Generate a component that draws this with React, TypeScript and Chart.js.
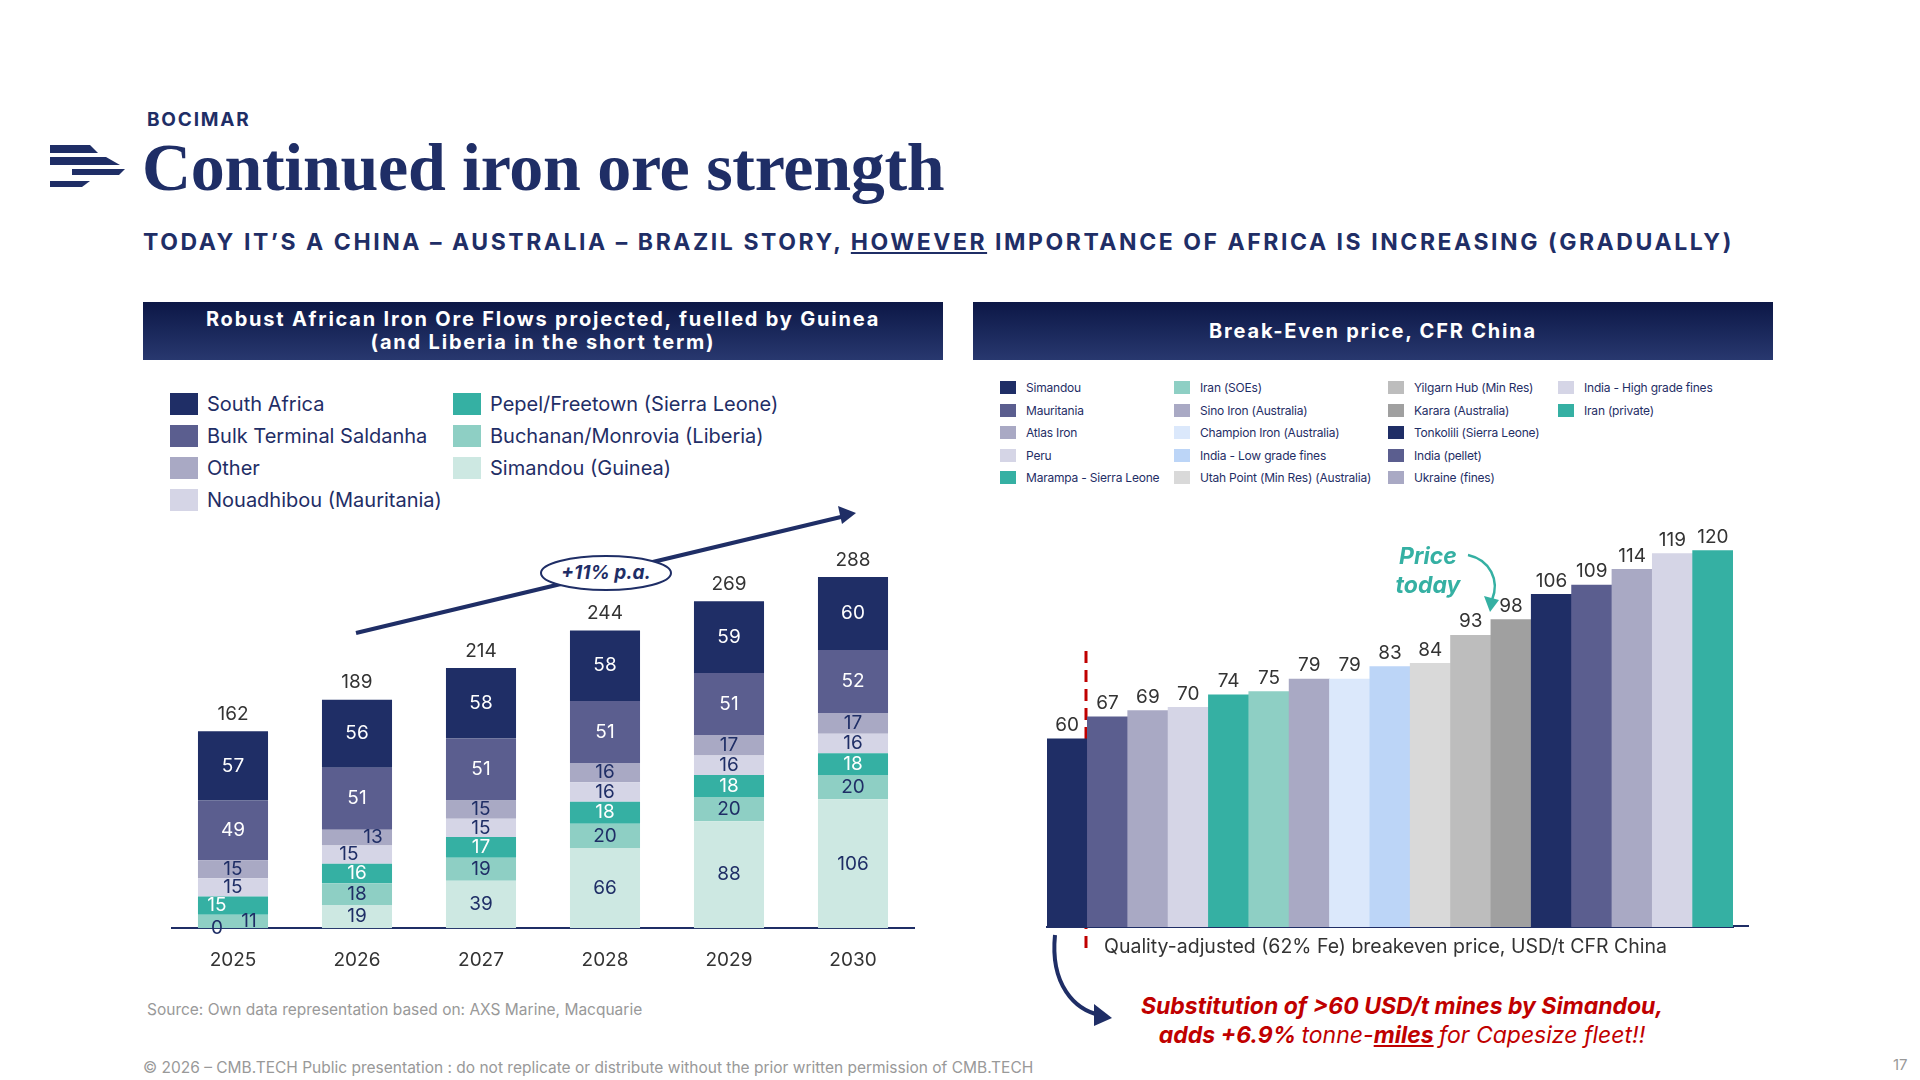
import React, { useEffect, useRef } from "react";
import { Chart, registerables } from "chart.js";
Chart.register(...registerables);

const years = ["2025", "2026", "2027", "2028", "2029", "2030"];
const simandou = [0, 19, 39, 66, 88, 106];
const buchanan = [11, 18, 19, 20, 20, 20];
const pepel = [15, 16, 17, 18, 18, 18];
const nouadhibou = [15, 15, 15, 16, 16, 16];
const other = [15, 13, 15, 16, 17, 17];
const saldanha = [49, 51, 51, 51, 51, 52];
const southAfrica = [57, 56, 58, 58, 59, 60];
const totals = [162, 189, 214, 244, 269, 288];

const beLabels = ["Tonkolili (Sierra Leone)", "Mauritania", "Atlas Iron", "Peru", "Marampa - Sierra Leone", "Iran (SOEs)", "Sino Iron (Australia)", "Champion Iron (Australia)", "India - Low grade fines", "Utah Point (Min Res) (Australia)", "Yilgarn Hub (Min Res)", "Karara (Australia)", "Simandou", "India (pellet)", "Ukraine (fines)", "India - High grade fines", "Iran (private)"];
const beValues = [60, 67, 69, 70, 74, 75, 79, 79, 83, 84, 93, 98, 106, 109, 114, 119, 120];

const NAVY = "#1f2e66";
const C = { sa: "#1f2e66", sal: "#5b5e8f", oth: "#a9a9c4", nou: "#d5d5e6", pep: "#35b0a3", buc: "#8ecfc4", sim: "#cde8e2" };
const beColors = ["#1f2e66", "#5b5e8f", "#a9a9c4", "#d5d5e6", "#35b0a3", "#8ecfc4", "#a9a9c4", "#dbe8fb", "#bcd5f7", "#d9d9d9", "#bdbdbd", "#a0a0a0", "#1f2e66", "#5b5e8f", "#a9a9c4", "#d5d5e6", "#35b0a3"];

const leftLegend = [
  ["South Africa", C.sa], ["Bulk Terminal Saldanha", C.sal], ["Other", C.oth], ["Nouadhibou (Mauritania)", C.nou],
  ["Pepel/Freetown (Sierra Leone)", C.pep], ["Buchanan/Monrovia (Liberia)", C.buc], ["Simandou (Guinea)", C.sim],
];
const rightLegend = [
  ["Simandou", "#1f2e66"], ["Mauritania", "#5b5e8f"], ["Atlas Iron", "#a9a9c4"], ["Peru", "#d5d5e6"], ["Marampa - Sierra Leone", "#35b0a3"],
  ["Iran (SOEs)", "#8ecfc4"], ["Sino Iron (Australia)", "#a9a9c4"], ["Champion Iron (Australia)", "#dbe8fb"], ["India - Low grade fines", "#bcd5f7"], ["Utah Point (Min Res) (Australia)", "#d9d9d9"],
  ["Yilgarn Hub (Min Res)", "#bdbdbd"], ["Karara (Australia)", "#a0a0a0"], ["Tonkolili (Sierra Leone)", "#1f2e66"], ["India (pellet)", "#5b5e8f"], ["Ukraine (fines)", "#a9a9c4"],
  ["India - High grade fines", "#d5d5e6"], ["Iran (private)", "#35b0a3"],
];

const FONT = "Inter, 'Noto Sans', sans-serif";

const offsets: Record<string, number> = { "0-0": -16, "0-1": 16, "0-2": -16, "1-4": 16, "1-3": -8 };

export default function App() {
  const lRef = useRef<HTMLCanvasElement>(null);
  const rRef = useRef<HTMLCanvasElement>(null);
  useEffect(() => {
    const segLabels = {
      id: "segLabels",
      afterDatasetsDraw(chart: any) {
        const ctx = chart.ctx;
        ctx.save();
        ctx.font = `19px ${FONT}`;
        ctx.textAlign = "center";
        ctx.textBaseline = "middle";
        chart.data.datasets.forEach((ds: any, di: number) => {
          const meta = chart.getDatasetMeta(di);
          meta.data.forEach((bar: any, i: number) => {
            const v = ds.data[i];
            const y = (bar.y + bar.base) / 2;
            ctx.fillStyle = di >= 5 || di === 2 ? "#fff" : NAVY;
            const off = offsets[`${i}-${di}`] || 0;
            ctx.fillText(String(v), bar.x + off, v === 0 ? bar.base : y);
          });
        });
        const top = chart.getDatasetMeta(chart.data.datasets.length - 1);
        ctx.fillStyle = "#333";
        top.data.forEach((bar: any, i: number) => ctx.fillText(String(totals[i]), bar.x, bar.y - 17));
        ctx.restore();
      },
    };
    const mk = (label: string, data: number[], color: string) => ({ label, data, backgroundColor: color, barPercentage: 0.565, categoryPercentage: 1 });
    const left = new Chart(lRef.current!, {
      type: "bar",
      data: {
        labels: years,
        datasets: [
          mk("Simandou (Guinea)", simandou, C.sim), mk("Buchanan/Monrovia (Liberia)", buchanan, C.buc), mk("Pepel/Freetown (Sierra Leone)", pepel, C.pep),
          mk("Nouadhibou (Mauritania)", nouadhibou, C.nou), mk("Other", other, C.oth), mk("Bulk Terminal Saldanha", saldanha, C.sal), mk("South Africa", southAfrica, C.sa),
        ],
      },
      options: {
        animation: false, responsive: false,
        plugins: { legend: { display: false }, tooltip: { enabled: false } },
        layout: { padding: 0 },
        scales: {
          x: { stacked: true, grid: { display: false }, border: { color: NAVY, width: 2 }, ticks: { color: "#333", font: { size: 19, family: FONT }, padding: 13 } },
          y: { stacked: true, display: false, min: 0, max: 312 },
        },
      },
      plugins: [segLabels],
    });
    const valLabels = {
      id: "valLabels",
      afterDatasetsDraw(chart: any) {
        const ctx = chart.ctx;
        ctx.save();
        ctx.font = `19px ${FONT}`;
        ctx.textAlign = "center";
        ctx.textBaseline = "bottom";
        ctx.fillStyle = "#333";
        chart.getDatasetMeta(0).data.forEach((bar: any, i: number) => ctx.fillText(String(beValues[i]), bar.x, bar.y - 4));
        ctx.restore();
      },
    };
    const right = new Chart(rRef.current!, {
      type: "bar",
      data: { labels: beLabels, datasets: [{ data: beValues, backgroundColor: beColors, barPercentage: 1, categoryPercentage: 1 }] },
      options: {
        animation: false, responsive: false,
        plugins: { legend: { display: false }, tooltip: { enabled: false } },
        layout: { padding: { left: 15, right: 16 } },
        scales: {
          x: { grid: { display: false }, border: { color: NAVY, width: 2 }, ticks: { display: false } },
          y: { display: false, min: 0, max: 134.5 },
        },
      },
      plugins: [valLabels],
    });
    return () => { left.destroy(); right.destroy(); };
  }, []);

  const header = (x: number, lines: string[]) => (
    <div style={{ position: "absolute", left: x, top: 302, width: 800, height: 58, background: "linear-gradient(#0c1746, #28386f)", color: "#fff", fontFamily: FONT, fontWeight: 700, fontSize: 20, letterSpacing: 1.8, lineHeight: "23px", display: "flex", flexDirection: "column", justifyContent: "center", alignItems: "center", textAlign: "center" }}>
      {lines.map((l) => <div key={l}>{l}</div>)}
    </div>
  );

  return (
    <div style={{ position: "absolute", left: 0, top: 0, width: 1920, height: 1080, background: "#fff", overflow: "hidden", fontFamily: FONT }}>
      <svg style={{ position: "absolute", left: 0, top: 0 }} width={1920} height={1080}>
        <g fill={NAVY}>
          <path d="M50 145 h40 l8 8 h-48z" />
          <path d="M50 157 h56 l14 8 h-70z" />
          <path d="M72 169 h53 l-6 6 h-47z" />
          <path d="M50 181 h40 l-8 6 h-32z" />
        </g>
        <line x1={356} y1={633} x2={845} y2={516} stroke={NAVY} strokeWidth={4} />
        <polygon points="856,513 838,506 842,524" fill={NAVY} />
        <ellipse cx={606} cy={573} rx={65} ry={17} fill="#fff" stroke={NAVY} strokeWidth={2} />
        <line x1={1086} y1={651} x2={1086} y2={955} stroke="#c00000" strokeWidth={3} strokeDasharray="12 7" />
        <line x1={1733} y1={926} x2={1749} y2={926} stroke={NAVY} strokeWidth={2} />
        <path d="M1055 935 C1050 985, 1075 1010, 1100 1015" fill="none" stroke={NAVY} strokeWidth={4} />
        <polygon points="1112,1018 1094,1004 1094,1026" fill={NAVY} />
        <path d="M1468 555 C1490 560, 1500 580, 1492 600" fill="none" stroke="#35b0a3" strokeWidth={2.5} />
        <polygon points="1490,612 1484,596 1499,600" fill="#35b0a3" />
      </svg>
      <div style={{ position: "absolute", left: 147, top: 108, fontSize: 19, fontWeight: 700, color: NAVY, letterSpacing: 1.8 }}>BOCIMAR</div>
      <div style={{ position: "absolute", left: 142, top: 126, fontSize: 68, fontWeight: 700, color: NAVY, fontFamily: "'Liberation Serif', 'DejaVu Serif', serif", letterSpacing: -0.3, lineHeight: "82px" }}>Continued iron ore strength</div>
      <div style={{ position: "absolute", left: 143, top: 228, fontSize: 23, fontWeight: 700, color: NAVY, letterSpacing: 2.55 }}>TODAY IT’S A CHINA – AUSTRALIA – BRAZIL STORY, <u>HOWEVER</u> IMPORTANCE OF AFRICA IS INCREASING (GRADUALLY)</div>
      {header(143, ["Robust African Iron Ore Flows projected, fuelled by Guinea", "(and Liberia in the short term)"])}
      {header(973, ["Break-Even price, CFR China"])}
      {leftLegend.map(([t, c], i) => {
        const col = i < 4 ? 0 : 1; const row = i < 4 ? i : i - 4;
        return (
          <div key={t} style={{ position: "absolute", left: col ? 453 : 170, top: 392 + row * 32, display: "flex", alignItems: "center", fontSize: 20, color: NAVY }}>
            <span style={{ width: 28, height: 22, background: c, marginRight: 9, display: "inline-block" }} />{t}
          </div>
        );
      })}
      {rightLegend.map(([t, c], i) => {
        const col = Math.floor(i / 5); const row = i % 5;
        const xs = [1000, 1174, 1388, 1558];
        return (
          <div key={t} style={{ position: "absolute", left: xs[col], top: 380 + row * 22.5, display: "flex", alignItems: "center", fontSize: 12, color: NAVY, letterSpacing: -0.2 }}>
            <span style={{ width: 16, height: 13, background: c, marginRight: 10, display: "inline-block" }} />{t}
          </div>
        );
      })}
      <div style={{ position: "absolute", left: 561, top: 561, width: 90, textAlign: "center", fontSize: 19, fontWeight: 700, fontStyle: "italic", color: NAVY }}>+11% p.a.</div>
      <canvas ref={lRef} width={744} height={436} style={{ position: "absolute", left: 171, top: 549 }} />
      <canvas ref={rRef} width={717} height={430} style={{ position: "absolute", left: 1032, top: 505 }} />
      <div style={{ position: "absolute", left: 1378, top: 542, width: 100, textAlign: "center", fontSize: 23, fontWeight: 700, fontStyle: "italic", color: "#35b0a3", lineHeight: "29px" }}>Price<br />today</div>
      <div style={{ position: "absolute", left: 1104, top: 934, fontSize: 19.5, color: "#333" }}>Quality-adjusted (62% Fe) breakeven price, USD/t CFR China</div>
      <div style={{ position: "absolute", left: 1102, top: 992, width: 600, textAlign: "center", fontSize: 23, fontWeight: 700, fontStyle: "italic", color: "#c00000", lineHeight: "29px" }}>
        Substitution of &gt;60 USD/t mines by Simandou,<br />adds +6.9% <span style={{ fontWeight: 400 }}>tonne-</span><u>miles</u> <span style={{ fontWeight: 400 }}>for Capesize fleet!!</span>
      </div>
      <div style={{ position: "absolute", left: 147, top: 1000, fontSize: 15.5, color: "#999" }}>Source:  Own data representation based on: AXS Marine, Macquarie</div>
      <div style={{ position: "absolute", left: 143, top: 1058, fontSize: 15.5, color: "#999" }}>© 2026 – CMB.TECH Public presentation : do not replicate or distribute without the prior written permission of CMB.TECH</div>
      <div style={{ position: "absolute", left: 1893, top: 1055, fontSize: 15, color: "#999" }}>17</div>
    </div>
  );
}
